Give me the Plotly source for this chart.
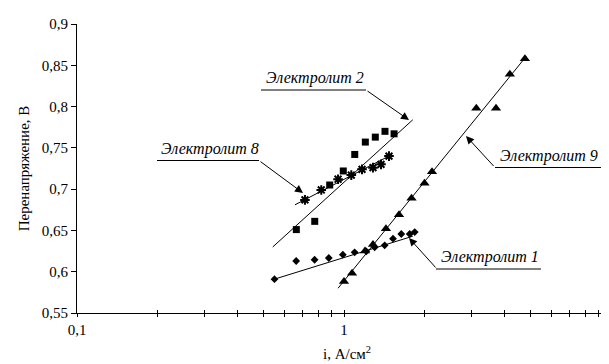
import plotly.graph_objects as go

# ---- data ----
e1_x = [0.549, 0.662, 0.776, 0.877, 0.99, 1.096, 1.212, 1.303, 1.42, 1.526, 1.639, 1.762, 1.84]
e1_y = [0.591, 0.613, 0.6145, 0.6166, 0.6206, 0.6235, 0.6247, 0.6296, 0.632, 0.640, 0.6457, 0.6457, 0.648]

e2_x = [0.663, 0.777, 0.884, 0.994, 1.097, 1.202, 1.31, 1.424, 1.54]
e2_y = [0.651, 0.661, 0.705, 0.722, 0.742, 0.757, 0.763, 0.770, 0.767]

e8_x = [0.714, 0.822, 0.950, 1.065, 1.168, 1.284, 1.376, 1.474]
e8_y = [0.687, 0.699, 0.712, 0.717, 0.724, 0.726, 0.730, 0.740]

e9_x = [1.0, 1.072, 1.199, 1.284, 1.436, 1.607, 1.79, 2.002, 2.136, 3.13, 3.71, 4.18, 4.76]
e9_y = [0.588, 0.598, 0.625, 0.633, 0.652, 0.669, 0.689, 0.707, 0.721, 0.798, 0.798, 0.839, 0.858]

t1_x, t1_y = [0.549, 1.81], [0.591, 0.643]
t2_x, t2_y = [0.541, 1.81], [0.630, 0.784]
t8_x, t8_y = [0.655, 1.513], [0.681, 0.742]
t9_x, t9_y = [0.95, 4.82], [0.580, 0.861]

y_ticks = [0.55, 0.6, 0.65, 0.7, 0.75, 0.8, 0.85, 0.9]
y_labels = ["0,55", "0,6", "0,65", "0,7", "0,75", "0,8", "0,85", "0,9"]
x_ticks = [0.1, 0.2, 0.3, 0.4, 0.5, 0.6, 0.7, 0.8, 0.9, 1, 2, 3, 4, 5, 6, 7, 8, 9, 10]
x_labels = ["0,1", "", "", "", "", "", "", "", "", "1", "", "", "", "", "", "", "", "", "10"]

labels = ["Электролит 2", "Электролит 8", "Электролит 9", "Электролит 1"]

FONT = "Liberation Serif"
L, R, T, B = 69, 6, 16, 59
W, H = 609, 364
PW, PH = W - L - R, H - T - B


def dx(px):
    return (px - L) / PW


def dy(py):
    return (H - B - py) / PH


fig = go.Figure()
blk = "black"
for tx_, ty_ in [(t1_x, t1_y), (t2_x, t2_y), (t8_x, t8_y), (t9_x, t9_y)]:
    fig.add_trace(go.Scatter(x=tx_, y=ty_, mode="lines", line=dict(color=blk, width=1), showlegend=False))

fig.add_trace(go.Scatter(x=e1_x, y=e1_y, mode="markers", name=labels[3],
                         marker=dict(symbol="diamond", size=6, color=blk), showlegend=False))
fig.add_trace(go.Scatter(x=e2_x, y=e2_y, mode="markers", name=labels[0],
                         marker=dict(symbol="square", size=7, color=blk), showlegend=False))
fig.add_trace(go.Scatter(x=e8_x, y=e8_y, mode="markers", name=labels[1],
                         marker=dict(symbol="asterisk-open", size=8, color=blk, line=dict(color=blk, width=2)),
                         showlegend=False))
fig.add_trace(go.Scatter(x=e9_x, y=e9_y, mode="markers", name=labels[2],
                         marker=dict(symbol="triangle-up", size=9, color=blk), showlegend=False))
# helper trace for the second (tick-only) x axis
fig.add_trace(go.Scatter(x=[1], y=[0.7], xaxis="x2", mode="markers", marker=dict(opacity=0),
                         showlegend=False, hoverinfo="skip"))

# label layout: (text, text left px, underline y px, underline x0, underline x1, arrow tail px, arrow tip px)
label_geo = [
    (labels[0], 256, 82, 253, 358, (358, 82), (401, 112)),
    (labels[1], 151, 152.5, 149, 251, (251, 152.5), (295, 185)),
    (labels[2], 490, 159.5, 487, 593, (487, 159.5), (458, 128)),
    (labels[3], 431, 261, 428, 533, (429, 261), (401, 230)),
]
for txt, tx, uy, ux0, ux1, tail, tip in label_geo:
    fig.add_annotation(text=txt, x=dx(tx), y=dy(uy - 1), xref="x domain", yref="y domain",
                       xanchor="left", yanchor="bottom", showarrow=False,
                       font=dict(family=FONT, size=16, color=blk, style="italic"))
    fig.add_shape(type="line", x0=dx(ux0), x1=dx(ux1), y0=dy(uy), y1=dy(uy), xref="x domain", yref="y domain",
                  line=dict(color=blk, width=1))
    fig.add_annotation(x=dx(tip[0]), y=dy(tip[1]), ax=dx(tail[0]), ay=dy(tail[1]),
                       xref="x domain", yref="y domain", axref="x domain", ayref="y domain",
                       text="", showarrow=True, arrowhead=2, arrowsize=1.6, arrowwidth=1, arrowcolor=blk)

fig.add_annotation(text="i, А/см<sup>2</sup>", x=dx(313), y=dy(345), xref="x domain", yref="y domain",
                   xanchor="left", yanchor="middle", showarrow=False, font=dict(family=FONT, size=15, color=blk))

fig.update_layout(
    width=W, height=H,
    margin=dict(l=L, r=R, t=T, b=B, pad=0, autoexpand=False),
    paper_bgcolor="white", plot_bgcolor="white",
    font=dict(family=FONT, size=15, color=blk),
    xaxis=dict(type="log", range=[-1, 1], tickvals=x_ticks, ticktext=x_labels, ticks="outside", ticklen=3,
               tickcolor=blk, showline=True, linecolor=blk, linewidth=1, showgrid=False, zeroline=False,
               automargin=False, tickfont=dict(family=FONT, size=15, color=blk)),
    xaxis2=dict(type="log", range=[-1, 1], overlaying="x", matches="x", tickvals=x_ticks, ticks="inside",
                ticklen=3, tickcolor=blk, showticklabels=False, showline=False, showgrid=False, zeroline=False,
                automargin=False),
    yaxis=dict(range=[0.55, 0.9], tickvals=y_ticks, ticktext=y_labels, ticks="outside", ticklen=5,
               tickcolor=blk, showline=True, linecolor=blk, linewidth=1, showgrid=False, zeroline=False,
               automargin=False, tickfont=dict(family=FONT, size=15, color=blk),
               title=dict(text="Перенапряжение, В", font=dict(family=FONT, size=15, color=blk), standoff=8)),
)

fig.write_html("out.html")
